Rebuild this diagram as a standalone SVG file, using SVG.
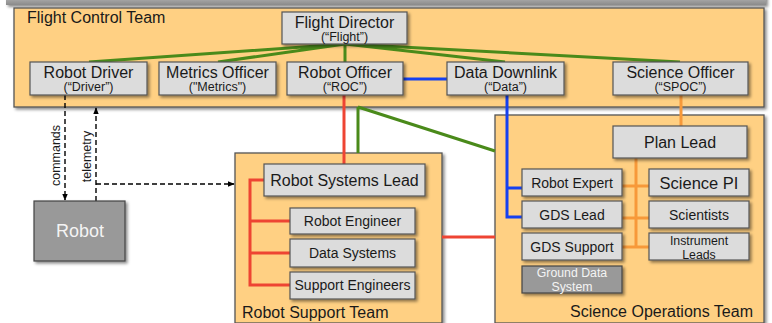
<svg xmlns="http://www.w3.org/2000/svg" width="772" height="323" viewBox="0 0 772 323">
<defs>
<filter id="sh" x="-10%" y="-10%" width="130%" height="140%">
<feDropShadow dx="2" dy="2" stdDeviation="1.5" flood-color="#000" flood-opacity="0.45"/>
</filter>
<linearGradient id="topg" x1="0" y1="0" x2="0" y2="1">
<stop offset="0" stop-color="#e0e0e0"/><stop offset="1" stop-color="#8a8a8a"/>
</linearGradient>
<marker id="ah" viewBox="0 0 10 10" refX="9" refY="5" markerWidth="7" markerHeight="7" orient="auto" markerUnits="userSpaceOnUse">
<path d="M0,1 L10,5 L0,9 z" fill="#000"/>
</marker>
</defs>
<style>
.team{fill:#FFD083;stroke:#555;stroke-width:1.3;filter:url(#sh)}
.box{fill:#DCDCDC;stroke:#555;stroke-width:1.2;filter:url(#sh)}
.dark{fill:#999;stroke:#444;stroke-width:1.2;filter:url(#sh)}
text{font-family:"Liberation Sans",Arial,sans-serif;fill:#1a1a1a}
.t16{font-size:16px}
.t14{font-size:14px}
.t13{font-size:12.3px}
.s{font-size:12.5px}
.t12{font-size:12.5px}
.c{text-anchor:middle}
.g{stroke:#4a8a1a;stroke-width:3;fill:none}
.r{stroke:#EE4433;stroke-width:3;fill:none}
.b{stroke:#1540F0;stroke-width:3;fill:none}
.o{stroke:#F7993A;stroke-width:3;fill:none}
.d{stroke:#000;stroke-width:1.4;stroke-dasharray:5,3;fill:none}
.w{fill:#f4f4f4}
</style>
<rect x="6" y="-12" width="760" height="17" fill="url(#topg)" filter="url(#sh)"/>

<g id="flight-control-team">
<rect class="team" x="14" y="8" width="750" height="99"/>
<text class="t16" x="27" y="23">Flight Control Team</text>
</g>
<g id="robot-support-team">
<rect class="team" x="235" y="153" width="207" height="170"/>
<text class="t16" x="242" y="318">Robot Support Team</text>
</g>
<g id="science-operations-team">
<rect class="team" x="495" y="115" width="269" height="208"/>
<text class="t16" x="753" y="317" text-anchor="end">Science Operations Team</text>
</g>

<g id="connectors">
<path class="g" d="M345,44 L89,62 M345,44 L218,62 M345,44 L345,62 M345,44 L505,62 M345,44 L680,62"/>
<path class="g" d="M358,107 L358,153 M358,107 L495,151"/>
<path class="b" d="M403,79 L447,79"/>
<path class="b" d="M507,95 L507,217 L522,217 M507,188 L522,188"/>
<path class="r" d="M344,95 L344,164"/>
<path class="r" d="M264,180 L250,180 L250,285 L290,285 M250,221 L290,221 M250,253 L290,253"/>
<path class="r" d="M442,237 L495,237"/>
<path class="o" d="M681,95 L681,126"/>
<path class="o" d="M636,158 L636,247 M622,186 L649,186 M622,218 L649,218 M622,247 L649,247"/>
<path class="d" d="M65,95 L65,200" marker-end="url(#ah)"/>
<path class="d" d="M96,201 L96,108" marker-end="url(#ah)"/>
<path class="d" d="M96,184 L234,184" marker-end="url(#ah)"/>
<text class="t12" transform="translate(60,155.5) rotate(-90)" text-anchor="middle">commands</text>
<text class="t12" transform="translate(91,156.5) rotate(-90)" text-anchor="middle">telemetry</text>
</g>

<g id="flight-director">
<rect class="box" x="282" y="12" width="125" height="32"/>
<text class="t16 c" x="344.5" y="28">Flight Director</text>
<text class="s c" x="344.5" y="41">(“Flight”)</text>
</g>
<g id="robot-driver">
<rect class="box" x="30" y="62" width="117" height="33"/>
<text class="t16 c" x="88.5" y="77.5">Robot Driver</text>
<text class="s c" x="88.5" y="91">(“Driver”)</text>
</g>
<g id="metrics-officer">
<rect class="box" x="159" y="62" width="117" height="33"/>
<text class="t16 c" x="217.5" y="77.5">Metrics Officer</text>
<text class="s c" x="217.5" y="91">("Metrics")</text>
</g>
<g id="robot-officer">
<rect class="box" x="287" y="62" width="116" height="33"/>
<text class="t16 c" x="345" y="77.5">Robot Officer</text>
<text class="s c" x="345" y="91">(“ROC”)</text>
</g>
<g id="data-downlink">
<rect class="box" x="447" y="62" width="117" height="33"/>
<text class="t16 c" x="505.5" y="77.5">Data Downlink</text>
<text class="s c" x="505.5" y="91">(“Data”)</text>
</g>
<g id="science-officer">
<rect class="box" x="613" y="62" width="135" height="33"/>
<text class="t16 c" x="680.5" y="77.5">Science Officer</text>
<text class="s c" x="680.5" y="91">(“SPOC”)</text>
</g>

<g id="robot">
<rect class="dark" x="34" y="201" width="91" height="60"/>
<text class="c w" x="80" y="237" font-size="18">Robot</text>
</g>

<g id="robot-systems-lead">
<rect class="box" x="264" y="164" width="161" height="32"/>
<text class="t16 c" x="344.5" y="186">Robot Systems Lead</text>
</g>
<g id="robot-engineer">
<rect class="box" x="290" y="208" width="125" height="26"/>
<text class="t14 c" x="352.5" y="226">Robot Engineer</text>
</g>
<g id="data-systems">
<rect class="box" x="290" y="239" width="125" height="28"/>
<text class="t14 c" x="352.5" y="258">Data Systems</text>
</g>
<g id="support-engineers">
<rect class="box" x="290" y="272" width="125" height="27"/>
<text class="t14 c" x="352.5" y="290">Support Engineers</text>
</g>

<g id="plan-lead">
<rect class="box" x="613" y="126" width="134" height="32"/>
<text class="t16 c" x="680" y="148">Plan Lead</text>
</g>
<g id="robot-expert">
<rect class="box" x="522" y="169" width="100" height="27"/>
<text class="t14 c" x="572" y="187.5">Robot Expert</text>
</g>
<g id="gds-lead">
<rect class="box" x="522" y="201" width="100" height="27"/>
<text class="t14 c" x="572" y="220">GDS Lead</text>
</g>
<g id="gds-support">
<rect class="box" x="522" y="233" width="100" height="27"/>
<text class="t14 c" x="572" y="252">GDS Support</text>
</g>
<g id="ground-data-system">
<rect class="dark" x="522" y="266" width="100" height="27"/>
<text class="t13 c w" x="572" y="277">Ground Data</text>
<text class="t13 c w" x="572" y="291">System</text>
</g>
<g id="science-pi">
<rect class="box" x="649" y="169" width="100" height="27"/>
<text class="c" font-size="16.5" x="699" y="189">Science PI</text>
</g>
<g id="scientists">
<rect class="box" x="649" y="201" width="100" height="27"/>
<text class="t14 c" x="699" y="220">Scientists</text>
</g>
<g id="instrument-leads">
<rect class="box" x="649" y="233" width="100" height="27"/>
<text class="t13 c" x="699" y="245">Instrument</text>
<text class="t13 c" x="699" y="259">Leads</text>
</g>
</svg>
